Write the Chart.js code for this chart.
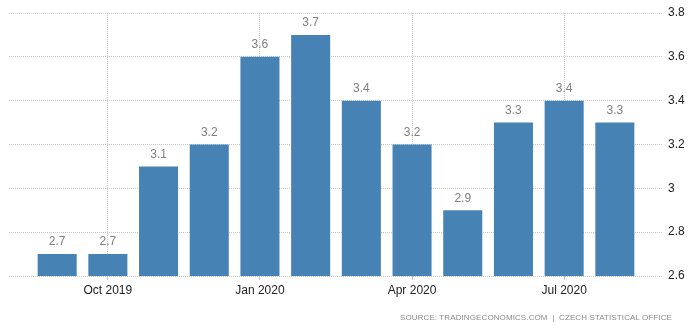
<!DOCTYPE html>
<html>
<head>
<meta charset="utf-8">
<script src="https://cdn.jsdelivr.net/npm/chart.js@4/dist/chart.umd.min.js"></script>
<style>
  html, body { margin: 0; padding: 0; background: #fff; }
  #wrap { position: relative; width: 696px; height: 328px; }
  #source { position: absolute; right: 24px; top: 313px; font-family: "Liberation Sans", Arial, sans-serif; font-size: 8px; color: #8a8a8a; letter-spacing: 0.1px; white-space: nowrap; }
</style>
</head>
<body>
<div id="wrap">
  <canvas id="c" width="696" height="328"></canvas>
  <div id="source">SOURCE: TRADINGECONOMICS.COM&nbsp;&nbsp;|&nbsp;&nbsp;CZECH STATISTICAL OFFICE</div>
</div>
<script>
const categories = ['Sep 2019','Oct 2019','Nov 2019','Dec 2019','Jan 2020','Feb 2020','Mar 2020','Apr 2020','May 2020','Jun 2020','Jul 2020','Aug 2020'];
const values = [2.7, 2.7, 3.1, 3.2, 3.6, 3.7, 3.4, 3.2, 2.9, 3.3, 3.4, 3.3];
const xTickLabels = ['Oct 2019','Jan 2020','Apr 2020','Jul 2020'];
const yTicks = [2.6, 2.8, 3, 3.2, 3.4, 3.6, 3.8];

const FONT = '"Liberation Sans", Arial, sans-serif';
const tickIdx = xTickLabels.map(l => categories.indexOf(l));

const valueLabels = {
  id: 'valueLabels',
  afterDatasetsDraw(chart) {
    const ctx = chart.ctx;
    const meta = chart.getDatasetMeta(0);
    ctx.save();
    ctx.font = '12px ' + FONT;
    ctx.fillStyle = '#808080';
    ctx.textAlign = 'center';
    ctx.textBaseline = 'bottom';
    meta.data.forEach((el, i) => {
      ctx.fillText(values[i].toFixed(1), el.x, el.y - 6);
    });
    ctx.restore();
  }
};

new Chart(document.getElementById('c'), {
  type: 'bar',
  data: {
    datasets: [{
      data: categories.map((c, i) => ({ x: i, y: values[i] })),
      backgroundColor: '#4682b4',
      borderWidth: 0,
      categoryPercentage: 1,
      barPercentage: 0.77
    }]
  },
  options: {
    responsive: false,
    animation: false,
    layout: { padding: { top: 13, left: 9, right: 0, bottom: 0 } },
    plugins: { legend: { display: false }, tooltip: { enabled: false } },
    scales: {
      x: {
        type: 'linear',
        min: -0.95,
        max: 11.95,
        offset: false,
        afterBuildTicks(scale) { scale.ticks = tickIdx.map(v => ({ value: v })); },
        afterFit(scale) { scale.height = 52; },
        border: { display: false, dash: [1, 1] },
        grid: { offset: false, color: '#c8c8c8', drawTicks: true, tickLength: 4, tickColor: '#c8c8c8' },
        ticks: {
          autoSkip: false,
          maxRotation: 0,
          padding: 3,
          color: '#222',
          font: { family: FONT, size: 12 },
          callback: (v) => { const k = tickIdx.indexOf(v); return k >= 0 ? xTickLabels[k] : ''; }
        }
      },
      y: {
        position: 'right',
        min: 2.6,
        max: 3.8,
        afterBuildTicks(scale) { scale.ticks = yTicks.map(v => ({ value: v })); },
        afterFit(scale) { scale.width = 33; },
        border: { display: false, dash: [1, 1] },
        grid: { color: '#c8c8c8', drawTicks: false },
        ticks: {
          padding: 5,
          color: '#222',
          font: { family: FONT, size: 12 },
          callback: (v) => String(Math.round(v * 10) / 10)
        }
      }
    }
  },
  plugins: [valueLabels]
});
</script>
</body>
</html>
